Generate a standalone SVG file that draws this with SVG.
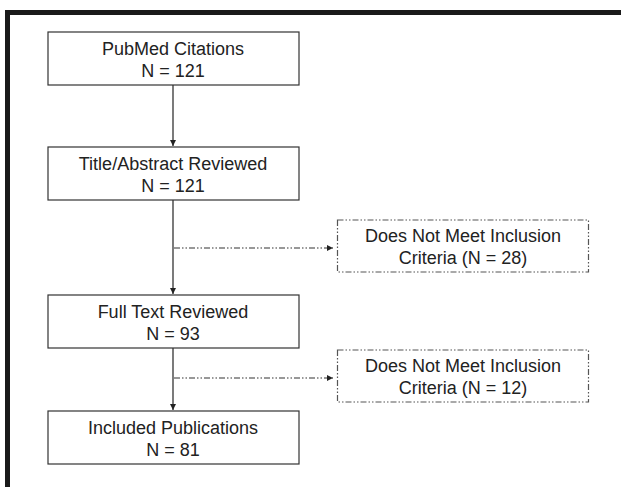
<svg xmlns="http://www.w3.org/2000/svg" width="621" height="487" viewBox="0 0 621 487">
<style>
.box{fill:#fff;stroke:#333;stroke-width:1.2}
.dbox{fill:#fff;stroke:#555;stroke-width:1.2;stroke-dasharray:6 2 1.5 2 1.5 2}
.t{font-family:"Liberation Sans",Arial,sans-serif;font-size:18px;fill:#222;text-anchor:middle}
.c{fill:none;stroke:#222;stroke-width:1.2}
.cd{fill:none;stroke:#333;stroke-width:1.2;stroke-dasharray:6 2 1.5 2 1.5 2}
</style>
<defs>
<marker id="ah" viewBox="0 0 10 10" refX="10" refY="5" markerWidth="6" markerHeight="6" markerUnits="userSpaceOnUse" orient="auto">
<path d="M0,0 L10,5 L0,10 Z" fill="#222"/>
</marker>
</defs>
<rect width="621" height="487" fill="#fff"/>
<g id="frame">
<path d="M7.5,487 V12.5 H621" fill="none" stroke="#1a1a1a" stroke-width="5"/>
</g>
<g id="connectors">
<line class="c" x1="173" y1="85" x2="173" y2="146" marker-end="url(#ah)"/>
<line class="c" x1="173" y1="200" x2="173" y2="294" marker-end="url(#ah)"/>
<line class="c" x1="173" y1="348" x2="173" y2="410" marker-end="url(#ah)"/>
<line class="cd" x1="174" y1="248" x2="333" y2="248" marker-end="url(#ah)"/>
<line class="cd" x1="174" y1="378" x2="333" y2="378" marker-end="url(#ah)"/>
</g>
<g id="pubmed">
<rect class="box" x="48" y="32" width="251" height="53"/>
<text class="t" x="173" y="55">PubMed Citations</text>
<text class="t" x="173" y="77">N = 121</text>
</g>
<g id="title">
<rect class="box" x="48" y="147" width="251" height="53"/>
<text class="t" x="173" y="170">Title/Abstract Reviewed</text>
<text class="t" x="173" y="192">N = 121</text>
</g>
<g id="exclude1">
<rect class="dbox" x="337.5" y="220" width="251" height="52"/>
<text class="t" x="463" y="242">Does Not Meet Inclusion</text>
<text class="t" x="463" y="264">Criteria (N = 28)</text>
</g>
<g id="fulltext">
<rect class="box" x="48" y="295" width="251" height="53"/>
<text class="t" x="173" y="318">Full Text Reviewed</text>
<text class="t" x="173" y="340">N = 93</text>
</g>
<g id="exclude2">
<rect class="dbox" x="337.5" y="350" width="251" height="52"/>
<text class="t" x="463" y="372">Does Not Meet Inclusion</text>
<text class="t" x="463" y="394">Criteria (N = 12)</text>
</g>
<g id="included">
<rect class="box" x="48" y="411" width="251" height="53"/>
<text class="t" x="173" y="434">Included Publications</text>
<text class="t" x="173" y="456">N = 81</text>
</g>
</svg>
